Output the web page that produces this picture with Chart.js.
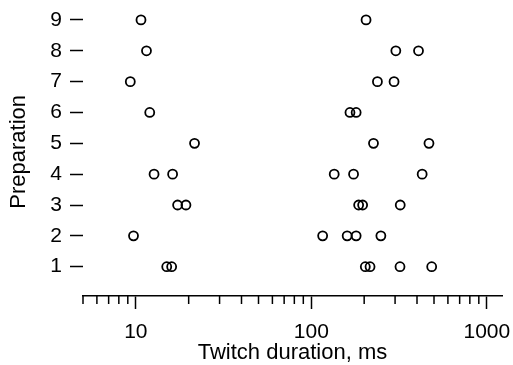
<!DOCTYPE html>
<html>
<head>
<meta charset="utf-8">
<script src="https://cdn.jsdelivr.net/npm/chart.js@4/dist/chart.umd.min.js"></script>
<style>
  body { margin: 0; background: #fff; }
  #wrap { width: 513px; height: 365px; }
</style>
</head>
<body>
<div id="wrap"><canvas id="chart"></canvas></div>
<script>
// twitch durations (ms), one inner list per preparation
const preparations = [1, 2, 3, 4, 5, 6, 7, 8, 9];
const fastMs = [
	[15.0, 16.0],
	[9.7],
	[17.3, 19.3],
	[12.7, 16.2],
	[21.6],
	[12.0],
	[9.3],
	[11.5],
	[10.7],
];
const slowMs = [
	[203, 216, 320, 485],
	[116, 160, 180, 249],
	[186, 196, 321],
	[135, 174, 428],
	[226, 468],
	[166, 180],
	[238, 296],
	[303, 408],
	[205],
];
const xTicks = [5, 6, 7, 8, 9, 10, 20, 30, 40, 50, 60, 70, 80, 90,
	100, 200, 300, 400, 500, 600, 700, 800, 900, 1000];
const yTicks = preparations;

const FONT = 'Liberation Sans, Arial, Helvetica, sans-serif';

function isPow10(v) {
	const l = Math.log10(v);
	return Math.abs(l - Math.round(l)) < 1e-9;
}

function toPoints(groups) {
	const pts = [];
	groups.forEach((vals, i) => {
		vals.forEach((v) => pts.push({ x: v, y: preparations[i] }));
	});
	return pts;
}

const pointStyle = {
	pointRadius: 4.5,
	pointHoverRadius: 4.5,
	pointBorderWidth: 1.8,
	pointBorderColor: '#000',
	pointBackgroundColor: 'rgba(0,0,0,0)',
	showLine: false,
};

// shorter minor ticks on the log axis
const minorTicks = {
	id: 'minorTicks',
	afterDraw(chart) {
		const xs = chart.scales.x;
		const ctx = chart.ctx;
		const y0 = chart.chartArea.bottom;
		ctx.save();
		ctx.strokeStyle = '#000';
		ctx.lineWidth = 1.5;
		xs.ticks.forEach((t) => {
			if (isPow10(t.value)) return;
			const px = xs.getPixelForValue(t.value);
			ctx.beginPath();
			ctx.moveTo(px, y0);
			ctx.lineTo(px, y0 + 8);
			ctx.stroke();
		});
		ctx.restore();
	},
};

const config = {
	type: 'scatter',
	data: {
		datasets: [
			{ label: 'fast', data: toPoints(fastMs), ...pointStyle },
			{ label: 'slow', data: toPoints(slowMs), ...pointStyle },
		],
	},
	options: {
		responsive: true,
		maintainAspectRatio: false,
		animation: false,
		layout: { padding: { top: 7.6, right: 11, bottom: 0, left: 0 } },
		plugins: { legend: { display: false }, tooltip: { enabled: false } },
		scales: {
			x: {
				type: 'logarithmic',
				min: 5,
				max: 1220,
				afterBuildTicks: (s) => {
					s.ticks = xTicks.map((v) => ({ value: v, major: isPow10(v) }));
				},
				afterFit: (s) => {
					s.height = 69;
					s.paddingLeft = 0;
					s.paddingRight = 0;
				},
				border: { display: true, color: '#000', width: 1.5 },
				grid: {
					drawOnChartArea: false,
					tickLength: 13,
					tickWidth: 1.5,
					tickColor: (c) => (c.tick && isPow10(c.tick.value) ? '#000' : 'rgba(0,0,0,0)'),
				},
				ticks: {
					autoSkip: false,
					maxRotation: 0,
					padding: 11,
					color: '#000',
					font: { family: FONT, size: 21 },
					callback: (v) => (isPow10(v) ? String(v) : ''),
				},
				title: {
					display: true,
					text: 'Twitch duration, ms',
					color: '#000',
					font: { family: FONT, size: 22, lineHeight: 1 },
					padding: { top: 0, bottom: 1 },
				},
			},
			y: {
				type: 'linear',
				min: 0.05,
				max: 9.4,
				afterBuildTicks: (s) => {
					s.ticks = yTicks.map((v) => ({ value: v }));
				},
				afterFit: (s) => {
					s.width = 83;
					s.paddingTop = 0;
					s.paddingBottom = 0;
				},
				border: { display: false },
				grid: {
					drawOnChartArea: false,
					tickLength: 13,
					tickWidth: 1.5,
					tickColor: '#000',
				},
				ticks: {
					padding: 8,
					color: '#000',
					font: { family: FONT, size: 21 },
				},
				title: {
					display: true,
					text: 'Preparation',
					color: '#000',
					font: { family: FONT, size: 22, lineHeight: 1 },
					padding: { top: 8, bottom: 0 },
				},
			},
		},
	},
	plugins: [minorTicks],
};

new Chart(document.getElementById('chart'), config);
</script>
</body>
</html>
